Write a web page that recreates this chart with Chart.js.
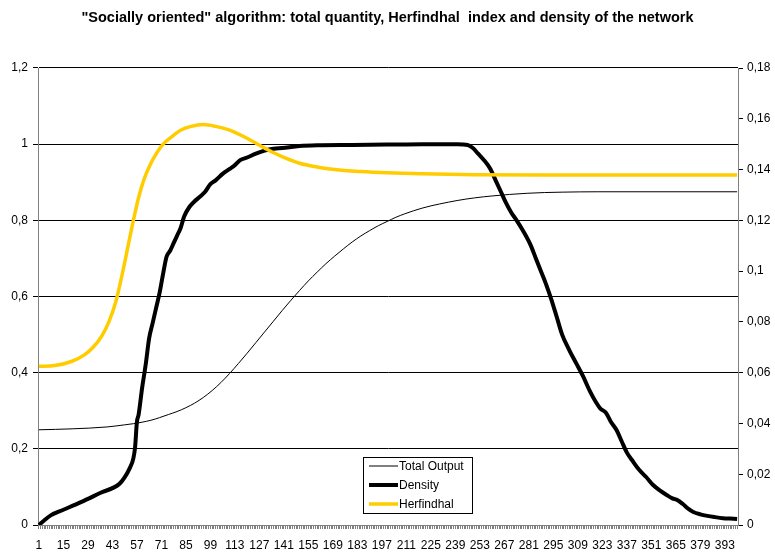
<!DOCTYPE html>
<html><head><meta charset="utf-8">
<script src="https://cdn.jsdelivr.net/npm/chart.js@4"></script>
<style>html,body{margin:0;padding:0;background:#fff;}canvas{display:block;}</style>
</head><body>
<canvas id="c" width="775" height="554"></canvas>
<script>
const chartTitle = '"Socially oriented" algorithm: total quantity, Herfindhal  index and density of the network';
const seriesNames = ['Total Output', 'Density', 'Herfindhal'];
const periodCount = 400;
const xTickLabels = [1,15,29,43,57,71,85,99,113,127,141,155,169,183,197,211,225,239,253,267,281,295,309,323,337,351,365,379,393];
const leftTickLabels = ['0','0,2','0,4','0,6','0,8','1','1,2'];
const rightTickLabels = ['0','0,02','0,04','0,06','0,08','0,1','0,12','0,14','0,16','0,18'];

// [period, value] — Total Output (left axis)
const totalOutput = [
  [1,0.25],[20,0.2525],[40,0.2575],[50,0.263],[55,0.266],[60,0.27],[65,0.275],[70,0.282],
  [75,0.29],[80,0.298],[85,0.308],[90,0.32],[95,0.335],[100,0.353],[105,0.374],[110,0.398],
  [115,0.424],[120,0.451],[125,0.479],[130,0.507],[135,0.535],[140,0.563],[145,0.59],
  [150,0.616],[155,0.641],[160,0.664],[165,0.686],[170,0.706],[175,0.725],[180,0.743],
  [185,0.759],[190,0.773],[195,0.786],[200,0.797],[205,0.808],[210,0.817],[215,0.825],
  [220,0.832],[225,0.838],[230,0.843],[240,0.852],[250,0.859],[260,0.864],[270,0.868],
  [280,0.871],[290,0.873],[300,0.874],[320,0.875],[400,0.875]
];
// Density (left axis)
const density = [
  [1,0.0],[4,0.012],[8,0.026],[15,0.040],[25,0.060],[36,0.084],[47,0.108],[50,0.125],[53,0.15],
  [55,0.175],[56,0.205],[57,0.27],[58,0.29],[60,0.36],[62,0.42],[64,0.49],[66,0.53],[68,0.57],
  [70,0.61],[72,0.66],[74,0.705],[76,0.72],[78,0.74],[80,0.76],[82,0.78],[84,0.81],[87,0.835],
  [90,0.85],[93,0.862],[96,0.875],[99,0.895],[102,0.905],[106,0.922],[110,0.935],[113,0.945],
  [116,0.958],[120,0.965],[125,0.975],[130,0.983],[135,0.988],[140,0.99],[150,0.995],[160,0.997],
  [180,0.998],[200,0.999],[220,1.0],[240,1.0],[246,0.998],[249,0.99],[252,0.975],[255,0.96],
  [259,0.935],[262,0.905],[265,0.875],[268,0.845],[271,0.82],[274,0.80],[278,0.77],[282,0.735],
  [285,0.70],[288,0.665],[291,0.63],[294,0.59],[297,0.545],[300,0.50],[304,0.46],[308,0.425],
  [312,0.39],[316,0.35],[319,0.325],[322,0.305],[325,0.295],[328,0.27],[331,0.25],[334,0.22],
  [337,0.19],[340,0.17],[344,0.145],[348,0.126],[352,0.105],[356,0.09],[360,0.078],[363,0.07],
  [366,0.065],[369,0.055],[372,0.043],[375,0.034],[379,0.028],[383,0.024],[387,0.021],
  [392,0.018],[396,0.017],[400,0.016]
];
// Herfindhal (right axis)
const herfindhal = [
  [1,0.0625],[10,0.0628],[20,0.0645],[27,0.067],[32,0.070],[37,0.0745],[41,0.080],[45,0.088],
  [49,0.100],[52,0.110],[55,0.12],[58,0.129],[61,0.136],[64,0.141],[67,0.145],[72,0.150],
  [77,0.153],[82,0.1555],[88,0.157],[95,0.1577],[102,0.157],[110,0.1555],[118,0.153],
  [126,0.150],[134,0.147],[142,0.1445],[150,0.1425],[160,0.141],[170,0.140],[185,0.1392],
  [200,0.1387],[220,0.1383],[250,0.138],[300,0.1379],[400,0.1379]
];

const FONT = "'Liberation Sans', Arial, sans-serif";
const toPoints = arr => arr.map(([x, y]) => ({x, y}));

const bgPlugin = {
  id: 'bg',
  beforeDraw(chart) {
    const c = chart.ctx; c.save(); c.fillStyle = '#fff';
    c.fillRect(0, 0, chart.width, chart.height); c.restore();
  }
};

const legendPlugin = {
  id: 'boxLegend',
  afterDraw(chart) {
    const c = chart.ctx;
    const x = 363.5, y = 457.5, w = 109, h = 56;
    c.save();
    c.fillStyle = '#fff'; c.fillRect(x, y, w, h);
    c.strokeStyle = '#000'; c.lineWidth = 1; c.strokeRect(x, y, w, h);
    c.font = '12px ' + FONT; c.textBaseline = 'middle'; c.textAlign = 'left';
    chart.data.datasets.forEach((ds, i) => {
      const ly = 466 + i * 19;
      c.strokeStyle = ds.borderColor; c.lineWidth = ds.borderWidth;
      c.beginPath(); c.moveTo(369, ly); c.lineTo(398, ly); c.stroke();
      c.fillStyle = '#000'; c.fillText(ds.label, 399, ly + 0.5);
    });
    c.restore();
  }
};

new Chart(document.getElementById('c'), {
  type: 'line',
  data: {
    datasets: [
      { label: seriesNames[0], data: toPoints(totalOutput), borderColor: '#000', borderWidth: 1,
        yAxisID: 'y', order: 2 },
      { label: seriesNames[1], data: toPoints(density), borderColor: '#000', borderWidth: 4,
        yAxisID: 'y', order: 1 },
      { label: seriesNames[2], data: toPoints(herfindhal), borderColor: '#FFCC00', borderWidth: 3.5,
        yAxisID: 'y1', order: 0 }
    ]
  },
  options: {
    responsive: false,
    animation: false,
    layout: { padding: 0 },
    elements: {
      point: { radius: 0, hoverRadius: 0 },
      line: { cubicInterpolationMode: 'monotone', fill: false }
    },
    plugins: {
      legend: { display: false },
      tooltip: { enabled: false },
      title: {
        display: true, text: chartTitle, color: '#000',
        font: { family: FONT, size: 14.5, weight: 'bold', lineHeight: 1.2 },
        padding: { top: 9, bottom: 41.6 }
      }
    },
    scales: {
      x: {
        type: 'linear', min: 0.5, max: periodCount + 0.5,
        afterBuildTicks: s => { const t = []; for (let i = 1; i <= periodCount; i++) t.push({ value: i }); s.ticks = t; },
        afterFit: s => { s.height = 29; },
        border: { color: '#808080', width: 1 },
        grid: { drawOnChartArea: false, drawTicks: true, tickLength: 4, color: '#808080' },
        ticks: {
          autoSkip: false, maxRotation: 0, minRotation: 0, padding: 9, color: '#000',
          font: { family: FONT, size: 12 },
          callback: v => xTickLabels.includes(v) ? String(v) : ''
        }
      },
      y: {
        position: 'left', min: 0, max: 1.2,
        afterBuildTicks: s => { s.ticks = leftTickLabels.map((_, i) => ({ value: i * 0.2 })); },
        afterFit: s => { s.width = 38; },
        border: { color: '#808080', width: 1 },
        grid: { color: '#000', lineWidth: 1, tickLength: 5, tickColor: '#000' },
        ticks: {
          padding: 5, color: '#000', font: { family: FONT, size: 12 },
          callback: v => leftTickLabels[Math.round(v / 0.2)]
        }
      },
      y1: {
        position: 'right', min: 0, max: 0.18,
        afterBuildTicks: s => { s.ticks = rightTickLabels.map((_, i) => ({ value: i * 0.02 })); },
        afterFit: s => { s.width = 37; },
        border: { color: '#808080', width: 1 },
        grid: { drawOnChartArea: false, tickLength: 5, color: '#000' },
        ticks: {
          padding: 4, color: '#000', font: { family: FONT, size: 12 },
          callback: v => rightTickLabels[Math.round(v / 0.02)]
        }
      }
    }
  },
  plugins: [bgPlugin, legendPlugin]
});
</script>
</body></html>
